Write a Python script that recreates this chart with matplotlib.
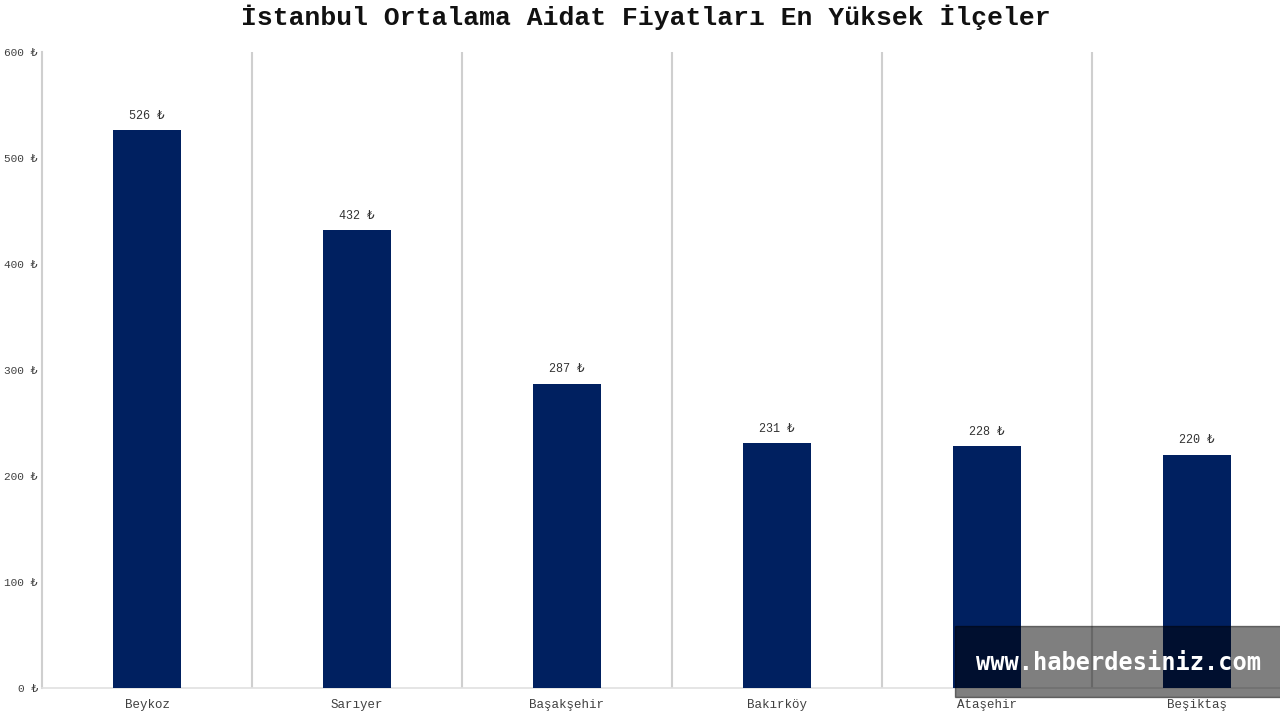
import matplotlib.pyplot as plt
from matplotlib.patches import Rectangle

# data
districts = ["Beykoz", "Sarıyer", "Başakşehir", "Bakırköy", "Ataşehir", "Beşiktaş"]
fees = [526, 432, 287, 231, 228, 220]
y_ticks = [0, 100, 200, 300, 400, 500, 600]

fonts = ['Liberation Mono', 'DejaVu Sans Mono', 'DejaVu Sans', 'Noto Sans', 'Roboto']
plt.rcParams['font.family'] = fonts

fig = plt.figure(figsize=(12.8, 7.2), dpi=100)
ax = fig.add_axes([42 / 1280, 32 / 720, 1260 / 1280, 636 / 720])

x = list(range(len(districts)))
ax.bar(x, fees, width=0.32, color="#002060", zorder=3)

for xi, v in zip(x, fees):
    ax.annotate(f"{v} ₺", (xi, v), xytext=(0, 6), textcoords="offset points",
                ha="center", va="bottom", fontsize=8.5, color="#333333")

# category separators
for b in range(1, len(districts)):
    ax.axvline(b - 0.5, color="#cfcfcf", lw=1.5, zorder=1)

ax.set_xlim(-0.5, len(districts) - 0.5)
ax.set_ylim(0, 600)
ax.set_xticks(x)
ax.set_xticklabels(districts, fontsize=9, color="#404040")
ax.set_yticks(y_ticks)
ax.set_yticklabels([f"{t} ₺" for t in y_ticks], fontsize=8, color="#404040")
ax.tick_params(axis="both", length=0)
ax.tick_params(axis="y", pad=3)
ax.tick_params(axis="x", pad=8)

for s in ["top", "right"]:
    ax.spines[s].set_visible(False)
ax.spines["left"].set_color("#cfcfcf")
ax.spines["left"].set_linewidth(1.5)
ax.spines["bottom"].set_color("#e0e0e0")
ax.spines["bottom"].set_linewidth(1.2)

fig.text(646 / 1280, 1 - 17 / 720, "İstanbul Ortalama Aidat Fiyatları En Yüksek İlçeler",
         ha="center", va="center", fontsize=19, fontweight="bold", color="#111111")

# watermark overlay
fig.patches.append(Rectangle((955 / 1280, 1 - 697 / 720), 330 / 1280, 71 / 720,
                             transform=fig.transFigure, color="black", alpha=0.5,
                             zorder=10))
fig.text(976 / 1280, 1 - 663 / 720, "www.haberdesiniz.com", ha="left", va="center",
         fontsize=17, fontweight="bold", color="white", family="DejaVu Sans Mono",
         zorder=11)

fig.savefig("out.png", dpi=100)
